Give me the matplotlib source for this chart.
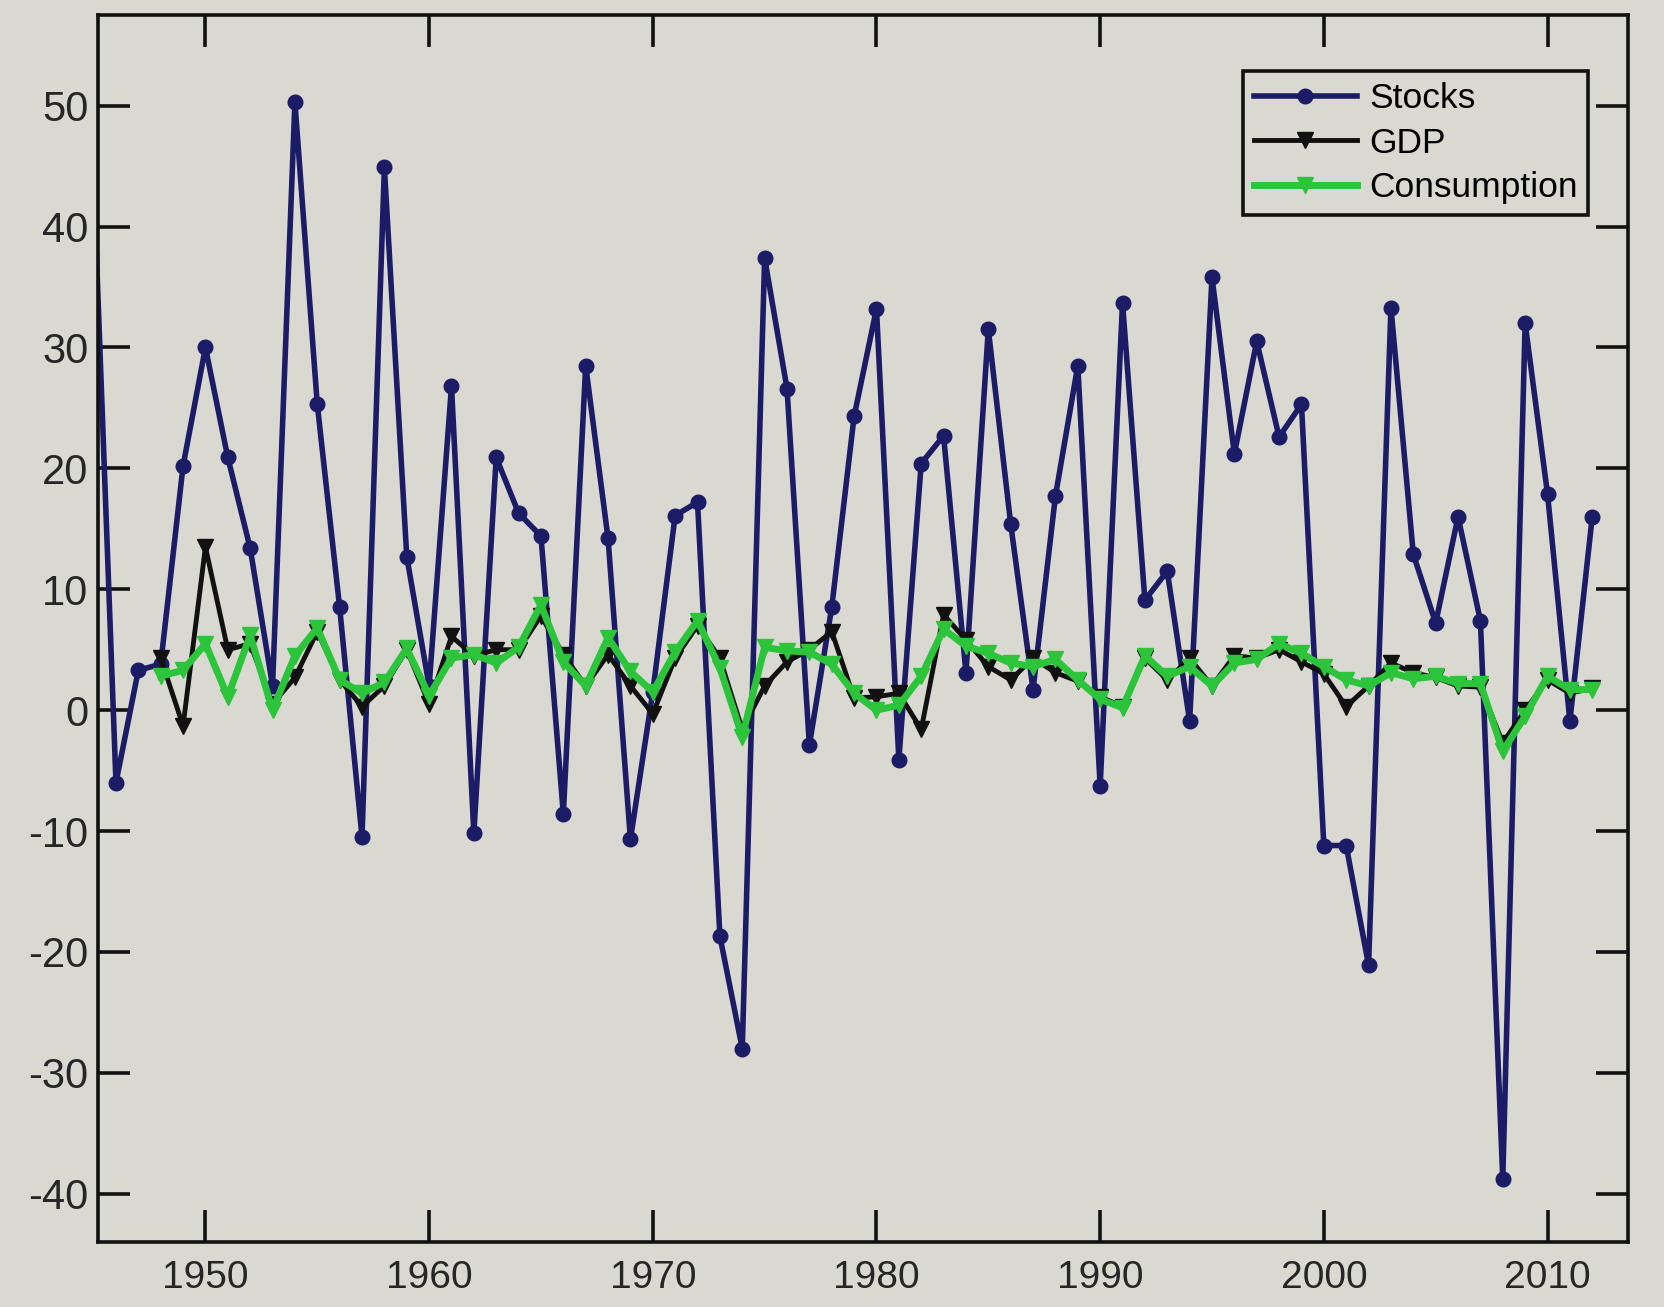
import numpy as np
import matplotlib
matplotlib.use("Agg")
import matplotlib.pyplot as plt

plt.rcParams['font.family'] = ['Liberation Sans', 'DejaVu Sans']
plt.rcParams['axes.unicode_minus'] = False

# annual growth rates (%)
stock_years = list(range(1945, 2013))
stocks = [44, -6.0, 3.3, 3.8, 20.2, 30.0, 20.9, 13.4, 2.0, 50.3,
          25.3, 8.5, -10.5, 44.9, 12.7, 2.0, 26.8, -10.2, 20.9, 16.3,
          14.4, -8.6, 28.5, 14.2, -10.7, 1.5, 16.1, 17.2, -18.7, -28.0,
          37.4, 26.6, -2.9, 8.5, 24.3, 33.2, -4.1, 20.4, 22.7, 3.1,
          31.5, 15.4, 1.7, 17.7, 28.5, -6.3, 33.7, 9.1, 11.5, -0.9,
          35.8, 21.2, 30.5, 22.6, 25.3, -11.2, -11.2, -21.1, 33.3, 12.9,
          7.2, 16.0, 7.4, -38.8, 32.0, 17.9, -0.9, 16.0]

macro_years = list(range(1948, 2013))
gdp = [4.3, -1.3, 13.5, 5.0, 5.5, 0.5, 2.7, 6.5, 2.5, 0.3,
       2.0, 5.0, 0.5, 6.1, 4.5, 5.0, 5.0, 7.8, 4.6, 2.0,
       4.6, 2.0, -0.3, 4.3, 7.0, 4.3, -1.6, 2.0, 4.0, 5.0,
       6.5, 1.0, 1.1, 1.4, -1.6, 7.9, 5.8, 3.6, 2.5, 4.3,
       3.1, 2.4, 1.1, 0.3, 4.3, 2.5, 4.3, 2.0, 4.5, 4.3,
       5.0, 4.0, 3.0, 0.3, 2.0, 3.9, 3.1, 2.7, 2.0, 1.9,
       -2.7, 0.0, 2.5, 1.4, 1.8]
consumption = [2.8, 3.3, 5.5, 1.1, 6.2, 0.0, 4.5, 6.8, 2.5, 1.4,
               2.3, 5.1, 1.2, 4.3, 4.6, 3.9, 5.2, 8.7, 4.0, 2.0,
               6.0, 3.2, 1.5, 4.8, 7.4, 3.5, -2.2, 5.2, 4.9, 4.8,
               3.8, 1.4, 0.0, 0.4, 2.8, 6.7, 5.3, 4.7, 3.9, 3.6,
               4.2, 2.5, 0.9, 0.2, 4.5, 2.8, 3.6, 2.0, 3.9, 4.2,
               5.5, 4.7, 3.6, 2.5, 2.0, 3.1, 2.6, 2.8, 2.2, 2.2,
               -3.4, -0.5, 2.8, 1.7, 1.7]

bg = '#d9d9d1'
fig = plt.figure(figsize=(16.65, 13.07), dpi=100, facecolor=bg)
ax = fig.add_axes([0.0589, 0.0497, 0.9189, 0.9388], facecolor=bg)

# first stock point sits just left of the axis, only its line shows
ax.plot(stock_years, stocks, color='#1b1b66', lw=4, marker='o', ms=10.5,
        markevery=slice(1, None), label='Stocks')
ax.plot(macro_years, gdp, color='#111111', lw=3.5, marker='v', ms=11,
        label='GDP')
ax.plot(macro_years, consumption, color='#2cc43a', lw=5, marker='v', ms=11,
        label='Consumption')

ax.set_xlim(1945.2, 2013.6)
ax.set_ylim(-44, 57.5)
ax.set_xticks(range(1950, 2011, 10))
ax.set_yticks(range(-40, 51, 10))
ax.tick_params(direction='in', length=23, width=2.6, top=True, right=True,
               labelsize=28, labelcolor='#262626', color='#111111')
ax.tick_params(axis='x', pad=13)
ax.tick_params(axis='y', pad=7, labelsize=30)
for s in ax.spines.values():
    s.set_linewidth(2.6)
    s.set_color('#111111')

leg = ax.legend(loc='upper right', bbox_to_anchor=(0.974, 0.954),
                borderaxespad=0, fontsize=25.5, handlelength=2.9,
                handletextpad=0.35, labelspacing=0.33, borderpad=0.3,
                fancybox=False, framealpha=1, facecolor=bg, edgecolor='#111111')
leg.get_frame().set_linewidth(2.6)

fig.savefig('out.png', dpi=100, facecolor=bg)
